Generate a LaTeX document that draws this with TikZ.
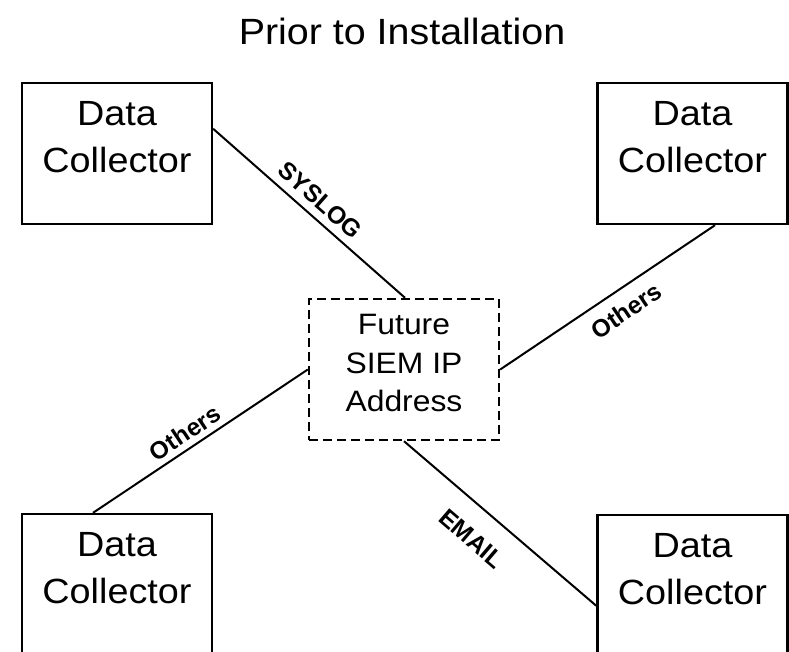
\documentclass[tikz,border=0pt]{standalone}
\usepackage{fontspec}
\setmainfont[FakeStretch=1.08]{Liberation Sans}
\newfontfamily\lblfont{Liberation Sans}
\usetikzlibrary{calc}
\tikzset{
  boxstyle/.style={draw=black, line width=2.4pt, minimum width=190pt, minimum height=141pt, inner sep=0pt},
  futurebox/.style={boxstyle, dashed, dash pattern=on 9pt off 5pt},
  boxtext/.style={font=\fontsize{35}{47.3}\selectfont, align=center, yshift=16.6pt},
  futuretext/.style={font=\fontsize{29.5}{38.5}\selectfont, align=center, yshift=6.5pt},
  conn/.style={draw=black, line width=2pt},
  lbl/.style={font=\lblfont\fontsize{24.5}{27}\selectfont\bfseries, sloped},
  titletext/.style={font=\fontsize{36.5}{40}\selectfont, anchor=base}
}
\begin{document}
\begin{tikzpicture}[x=1pt, y=-1pt]
\useasboundingbox (0,0) rectangle (789,652);
\node[titletext] (title) at (402,45) {Prior to Installation};
\node[boxstyle, label={[boxtext]center:Data\\Collector}] (tl) at (117,153.5) {};
\node[boxstyle, label={[boxtext]center:Data\\Collector}] (tr) at (692.5,153.5) {};
\node[boxstyle, label={[boxtext]center:Data\\Collector}] (bl) at (117,584.5) {};
\node[boxstyle, label={[boxtext]center:Data\\Collector}] (br) at (692.5,585.5) {};
\node[futurebox, label={[futuretext]center:Future\\SIEM IP\\Address}] (c) at (404,369.5) {};
\draw[conn] ($(tl.north east)+(0,47)$) -- node[lbl, pos=0.50, anchor=south, inner sep=7.5pt] {SYSLOG} ($(c.north)+(1,0)$);
\draw[conn] (c.east) -- node[lbl, pos=0.531, anchor=north, inner sep=11.5pt] {Others} ($(tr.south)+(22.5,0)$);
\draw[conn] ($(bl.north)+(-24,0)$) -- node[lbl, pos=0.468, anchor=south, inner sep=5.5pt] {Others} (c.west);
\draw[conn] (c.south) -- node[lbl, pos=0.454, anchor=north, inner sep=20.5pt] {EMAIL} ($(br.north west)+(0,92)$);
\end{tikzpicture}
\end{document}
